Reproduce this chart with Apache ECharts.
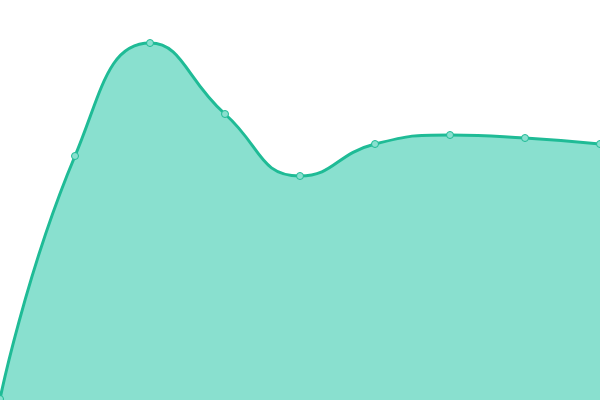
<!DOCTYPE html>
<html><head><meta charset="utf-8">
<script src="https://cdn.jsdelivr.net/npm/echarts@6/dist/echarts.min.js"></script>
<style>html,body{margin:0;padding:0;background:#fff}#c{width:600px;height:400px}</style>
</head><body><div id="c"></div>
<script>
var categories = ['1','2','3','4','5','6','7','8','9'];
var values = [1, 244, 357, 286, 224, 256, 265, 262, 256];
var chart = echarts.init(document.getElementById('c'), null, {renderer:'canvas'});
chart.setOption({
  animation:false,
  grid:{left:0,right:0,top:0,bottom:0},
  xAxis:{type:'category',data:categories,boundaryGap:false,show:false},
  yAxis:{type:'value',min:0,max:400,show:false},
  series:[{
    type:'line',data:values,smooth:true,
    symbol:'circle',symbolSize:7,
    lineStyle:{color:'#1fbb96',width:3},
    itemStyle:{color:'#89e0cf',borderColor:'#1fbb96',borderWidth:1},
    areaStyle:{color:'#89e0cf',opacity:1}
  }]
});
</script></body></html>
